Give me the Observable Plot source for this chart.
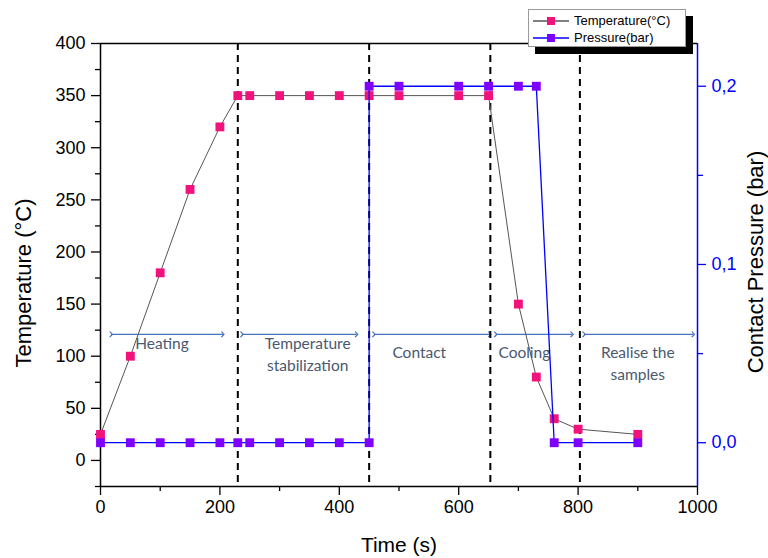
<!DOCTYPE html>
<html>
<head>
<meta charset="utf-8">
<script src="https://cdn.jsdelivr.net/npm/d3@7"></script>
<script src="https://cdn.jsdelivr.net/npm/@observablehq/plot@0.6"></script>
<style>
  html, body { margin: 0; padding: 0; background: #fff; }
  #wrap { position: relative; width: 768px; height: 558px; }
  #legend {
    position: absolute; left: 528px; top: 9px; width: 158px; height: 38px;
    background: #fff; border: 1px solid #9a9a9a; box-shadow: 7px 7px 0 #000;
    font: 13px "Liberation Sans", Arial, sans-serif; color: #000; box-sizing: border-box;
    padding-top: 2px;
  }
  .row { display: flex; align-items: center; height: 17px; padding-left: 3px; }
  .row svg { margin-right: 4px; }
</style>
</head>
<body>
<div id="wrap">
  <div id="chart"></div>
  <div id="legend"></div>
</div>
<script>
// Temperature series
const tempTime = [0, 50, 100, 150, 200, 230, 250, 300, 350, 400, 450, 500, 600, 650, 700, 730, 760, 800, 900];
const temperature = [25, 100, 180, 260, 320, 350, 350, 350, 350, 350, 350, 350, 350, 350, 150, 80, 40, 30, 25];

// Pressure series
const presTime = [0, 50, 100, 150, 200, 230, 250, 300, 350, 400, 450, 450, 500, 600, 650, 700, 730, 760, 800, 900];
const pressure = [0, 0, 0, 0, 0, 0, 0, 0, 0, 0, 0, 0.2, 0.2, 0.2, 0.2, 0.2, 0.2, 0, 0, 0];

// Phase boundaries (dashed lines)
const boundaries = [230, 450, 653, 803];

// Phase annotations
const phaseNames = ["Heating", "Temperature\nstabilization", "Contact", "Cooling", "Realise the\nsamples"];
const phaseStart = [18, 237, 458, 662, 810];
const phaseEnd = [205, 429, 652, 790, 993];
const phaseLabelX = [103, 347, 534, 710, 900];
const phaseLevel = 121;

// Tick labels
const xMajor = [0, 200, 400, 600, 800, 1000];
const xMinor = [100, 300, 500, 700, 900];
const yMajor = [0, 50, 100, 150, 200, 250, 300, 350, 400];
const yMinor = [-25, 25, 75, 125, 175, 225, 275, 325, 375];
const pMajor = [0, 0.1, 0.2];
const pMinor = [0.05, 0.15];

// Pressure (bar) -> temperature-axis position
const P0 = 17, PK = 1710;
const toY = p => P0 + p * PK;
const fromY = v => (v - P0) / PK;

const tempData = tempTime.map((t, i) => ({t, v: temperature[i]}));
const presData = presTime.map((t, i) => ({t, y: toY(pressure[i])}));
const phases = phaseNames.map((name, i) => ({name, s: phaseStart[i], e: phaseEnd[i], x: phaseLabelX[i]}));
const phaseDy = [8, 19, 17, 17, 28];

const PINK = "#f2127b", PURPLE = "#7f00ff", BLUE = "#0000ff";
const ANN = "#4472c4", ANNTXT = "#4a5870";
const FONT = "Liberation Sans, Arial, sans-serif";

const chart = Plot.plot({
  width: 768,
  height: 558,
  marginLeft: 100,
  marginRight: 71,
  marginTop: 43,
  marginBottom: 72,
  style: {fontFamily: FONT, background: "#fff", overflow: "visible"},
  x: {domain: [0, 1000], axis: null},
  y: {domain: [-25, 400], axis: null},
  marks: [
    // frame lines
    Plot.ruleY([400], {stroke: "#000", strokeWidth: 1.5}),
    Plot.ruleY([-25], {stroke: "#000", strokeWidth: 1.5}),
    Plot.ruleX([0], {stroke: "#000", strokeWidth: 1.5}),
    Plot.ruleX([1000], {stroke: BLUE, strokeWidth: 1.5}),
    // axes
    Plot.axisX({ticks: xMajor, tickSize: 9, tickPadding: 5, fontSize: 18, label: null, strokeWidth: 1.3,
      tickFormat: d => String(d)}),
    Plot.axisX({ticks: xMinor, tickSize: 5, tickFormat: () => "", label: null, strokeWidth: 1.3}),
    Plot.axisY({ticks: yMajor, tickSize: 9, tickPadding: 6, fontSize: 18, label: null, strokeWidth: 1.3,
      tickFormat: d => String(d)}),
    Plot.axisY({ticks: yMinor, tickSize: 5, tickFormat: () => "", label: null, strokeWidth: 1.3}),
    Plot.axisY({anchor: "right", ticks: pMajor.map(toY), tickSize: 8, tickPadding: 6, fontSize: 18,
      tickFormat: v => fromY(v).toFixed(1).replace(".", ","), label: null, color: BLUE, strokeWidth: 1.3}),
    Plot.axisY({anchor: "right", ticks: pMinor.map(toY), tickSize: 5, tickFormat: () => "", label: null, color: BLUE, strokeWidth: 1.3}),
    // axis titles
    Plot.text(["Time (s)"], {frameAnchor: "bottom", dy: 59, fontSize: 21, lineAnchor: "middle", textAnchor: "middle", fill: "#000"}),
    Plot.text(["Temperature (°C)"], {frameAnchor: "left", rotate: -90, dx: -77, dy: 18, fontSize: 22, lineAnchor: "middle", textAnchor: "middle", fill: "#000"}),
    Plot.text(["Contact Pressure (bar)"], {frameAnchor: "right", rotate: -90, dx: 58, dy: -3, fontSize: 22, lineAnchor: "middle", textAnchor: "middle", fill: "#000"}),
    // phase annotations
    Plot.link(phases, {x1: "s", x2: "e", y1: phaseLevel, y2: phaseLevel, stroke: ANN, strokeWidth: 1.2,
      markerStart: "arrow", markerEnd: "arrow"}),
    ...phases.map((p, i) => Plot.text([p], {x: "x", y: phaseLevel, text: "name", fill: ANNTXT, fontSize: 15.5,
      fontFamily: "Lato, 'Open Sans', sans-serif", lineAnchor: "middle", lineHeight: 1.42,
      dy: phaseDy[i]})),
    // dashed boundaries
    Plot.ruleX(boundaries, {stroke: "#000", strokeWidth: 2, strokeDasharray: "7,5"}),
    // temperature
    Plot.line(tempData, {x: "t", y: "v", stroke: "#555", strokeWidth: 1}),
    Plot.dot(tempData, {x: "t", y: "v", symbol: "square", r: 5, fill: PINK, stroke: "none"}),
    // pressure
    Plot.line(presData, {x: "t", y: "y", stroke: BLUE, strokeWidth: 1.3}),
    Plot.dot(presData, {x: "t", y: "y", symbol: "square", r: 5, fill: PURPLE, stroke: "none"})
  ]
});
document.getElementById("chart").appendChild(chart);

// Legend
const legendItems = [
  {label: "Temperature(°C)", line: "#555", fill: PINK},
  {label: "Pressure(bar)", line: BLUE, fill: PURPLE}
];
const legend = document.getElementById("legend");
for (const it of legendItems) {
  const row = document.createElement("div");
  row.className = "row";
  row.innerHTML = `<svg width="38" height="12"><line x1="1" x2="37" y1="6" y2="6" stroke="${it.line}" stroke-width="1.3"/><rect x="15" y="2" width="8" height="8" fill="${it.fill}"/></svg><span>${it.label}</span>`;
  legend.appendChild(row);
}
</script>
</body>
</html>
